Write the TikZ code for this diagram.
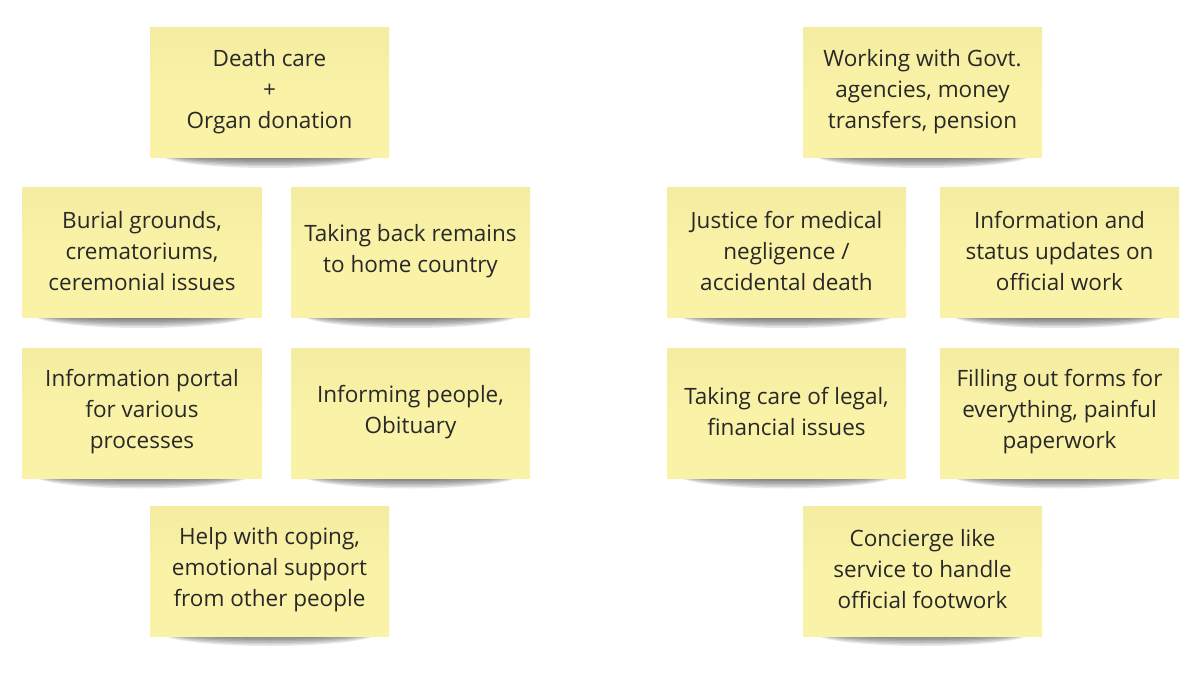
\documentclass[tikz,border=0pt]{standalone}
\usepackage{fontspec}
\setmainfont{Open Sans}
\definecolor{noteyellow}{RGB}{250,242,166}
\definecolor{notetop}{RGB}{244,236,160}
\definecolor{notetext}{RGB}{40,40,40}
\tikzset{
  sticky/.style={top color=notetop, bottom color=noteyellow, middle color=noteyellow,
    draw=none, minimum width=239pt, minimum height=130pt,
    align=center, text=notetext, inner sep=0pt,
    font=\fontsize{22.5}{31}\selectfont},
  notelabel/.style={align=center, text=notetext, inner sep=0pt,
    font=\fontsize{22.5}{31}\selectfont},
}
\newcommand{\stickynote}[4]{%
  % #1 name, #2 x centre, #3 y centre, #4 text
  \foreach \i in {1,...,8}{
    \pgfmathsetmacro{\rx}{95+\i*1.8}
    \pgfmathsetmacro{\ry}{2+\i*1.5}
    \fill[black,opacity=0.09] (#2,#3+61) ellipse ({\rx pt} and {\ry pt});
  }
  \node[sticky] (#1) at (#2,#3) {};
  \node[notelabel] (#1-text) at ([yshift=1.5pt]#1.center) {#4};
}
\begin{document}
\begin{tikzpicture}[x=1pt,y=-1pt]
\useasboundingbox[fill=white] (0,0) rectangle (1200,676);
\stickynote{death}{269.5}{93}{Death care\\+\\Organ donation}
\stickynote{burial}{142}{253}{Burial grounds,\\crematoriums,\\ceremonial issues}
\stickynote{remains}{410.5}{253}{Taking back remains\\to home country}
\stickynote{portal}{142}{413.5}{Information portal\\for various\\processes}
\stickynote{inform}{410.5}{413.5}{Informing people,\\Obituary}
\stickynote{coping}{269.5}{571}{Help with coping,\\emotional support\\from other people}
\stickynote{govt}{922.5}{93}{Working with Govt.\\agencies, money\\transfers, pension}
\stickynote{justice}{786.5}{253}{Justice for medical\\negligence /\\accidental death}
\stickynote{status}{1059.5}{253}{Information and\\status updates on\\official work}
\stickynote{legal}{786.5}{413.5}{Taking care of legal,\\financial issues}
\stickynote{forms}{1059.5}{413.5}{Filling out forms for\\everything, painful\\paperwork}
\stickynote{concierge}{922.5}{571}{Concierge like\\service to handle\\official footwork}
\end{tikzpicture}
\end{document}
